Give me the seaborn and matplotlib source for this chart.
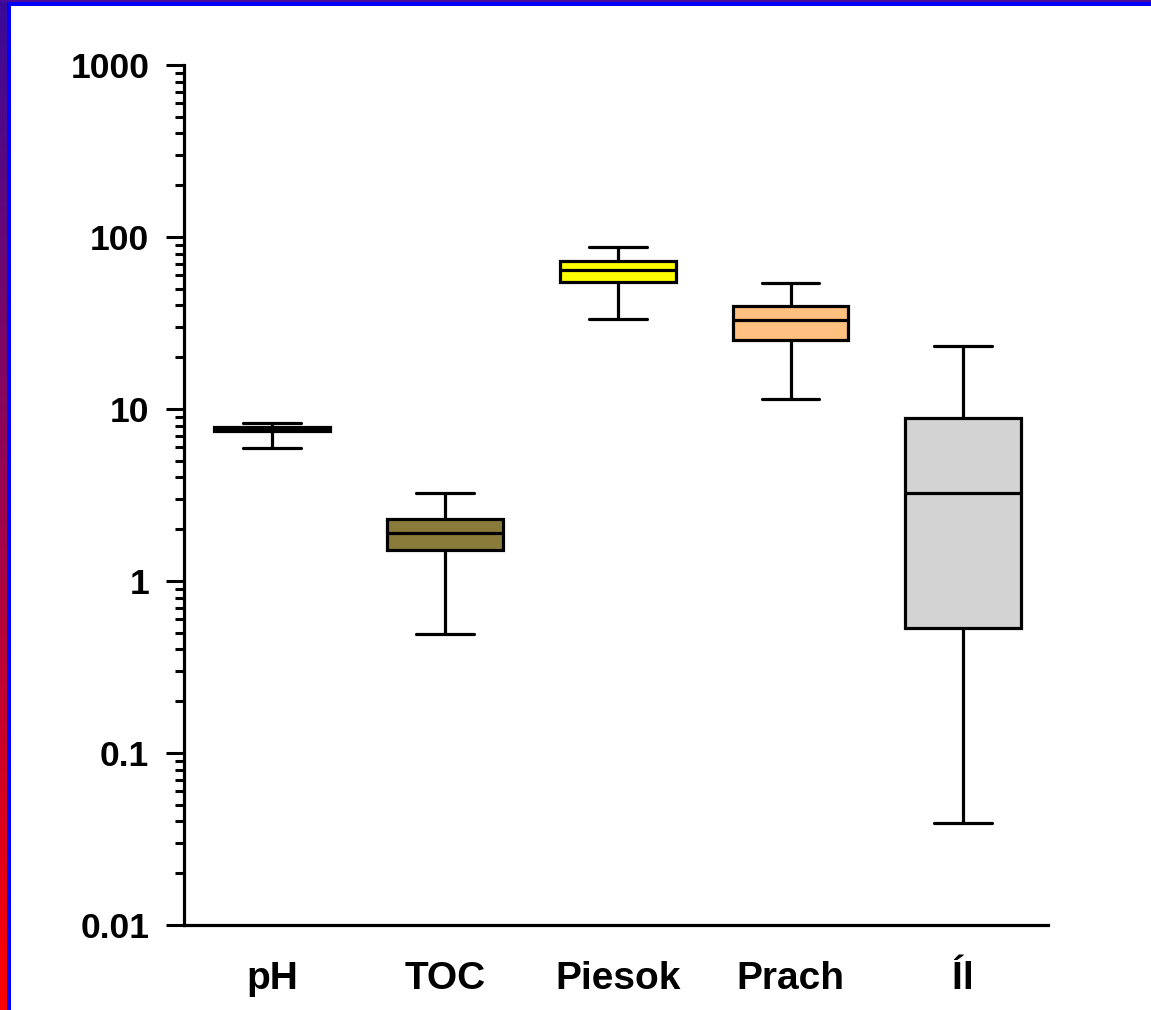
import numpy as np
import pandas as pd
import matplotlib
matplotlib.use("Agg")
import matplotlib.pyplot as plt
import seaborn as sns
from matplotlib.patches import Rectangle
from matplotlib.ticker import FixedLocator, FixedFormatter, LogLocator, NullFormatter

# ---- data (five-number summaries) ----
categories = ["pH", "TOC", "Piesok", "Prach", "Íl"]
mins    = [5.9, 0.49, 33.4, 11.4, 0.039]
q1s     = [7.4, 1.51, 54.5, 25.2, 0.535]
medians = [7.6, 1.89, 64.3, 32.9, 3.24]
q3s     = [7.85, 2.29, 72.8, 39.7, 8.83]
maxs    = [8.3, 3.24, 87.8, 54.3, 23.2]
colors  = ["#FFFFFF", "#8B7B3A", "#FFFF00", "#FFC080", "#D3D3D3"]
ytick_values = [0.01, 0.1, 1, 10, 100, 1000]
ytick_labels = ["0.01", "0.1", "1", "10", "100", "1000"]

rows = []
for c, a, b, m, d, e in zip(categories, mins, q1s, medians, q3s, maxs):
    for v in (a, b, m, d, e):
        rows.append({"cat": c, "val": v})
df = pd.DataFrame(rows)

sns.set_theme(style="white")
plt.rcParams["font.family"] = ["Liberation Sans", "DejaVu Sans"]
plt.rcParams["font.weight"] = "bold"

W, H = 1151, 1010
fig = plt.figure(figsize=(W / 100, H / 100), dpi=100)
fig.patch.set_facecolor("white")

ax = fig.add_axes([184 / W, 1 - 925 / H, (1048 - 184) / W, (925 - 65) / H])
sns.boxplot(data=df, x="cat", y="val", hue="cat", order=categories,
            hue_order=categories, palette=colors, saturation=1, legend=False,
            whis=(0, 100), width=0.67, linecolor="black", linewidth=2.3,
            fliersize=0, log_scale=True, ax=ax)

ax.set_yscale("log")
ax.set_ylim(0.01, 1000)
ax.set_xlim(-0.51, 4.49)
ax.yaxis.set_major_locator(FixedLocator(ytick_values))
ax.yaxis.set_major_formatter(FixedFormatter(ytick_labels))
ax.yaxis.set_minor_locator(LogLocator(base=10, subs=np.arange(2, 10), numticks=20))
ax.yaxis.set_minor_formatter(NullFormatter())
ax.tick_params(axis="y", which="major", direction="out", length=13, width=2.2,
               labelsize=25.5, pad=12, left=True, color="black")
ax.tick_params(axis="y", which="minor", direction="out", length=6.5, width=2.2,
               left=True, color="black")
ax.tick_params(axis="x", which="both", length=0, labelsize=28, pad=26)
for lab in ax.get_xticklabels() + ax.get_yticklabels():
    lab.set_fontweight("bold")
    lab.set_color("black")
ax.set_xlabel("")
ax.set_ylabel("")
for s in ["top", "right"]:
    ax.spines[s].set_visible(False)
for s in ["left", "bottom"]:
    ax.spines[s].set_linewidth(2.3)
    ax.spines[s].set_color("black")
ax.set_facecolor("white")

# ---- decorative frame ----
gax = fig.add_axes([0, 0, 7 / W, 1])
grad = np.linspace(0, 1, 256).reshape(-1, 1)
top_c = np.array([58, 10, 154]) / 255
bot_c = np.array([255, 0, 0]) / 255
img = top_c[None, None, :] * (1 - grad[..., None]) + bot_c[None, None, :] * grad[..., None]
gax.imshow(img, aspect="auto", extent=[0, 1, 0, 1], origin="upper")
gax.set_axis_off()
fig.add_artist(Rectangle((0, 1 - 2 / H), 1, 2 / H, transform=fig.transFigure,
                         color="#4A0A9A", lw=0))
fig.add_artist(Rectangle((7 / W, 0), 4 / W, 1 - 2 / H, transform=fig.transFigure,
                         color="#0000FF", lw=0))
fig.add_artist(Rectangle((7 / W, 1 - 6 / H), 1, 4 / H, transform=fig.transFigure,
                         color="#0000FF", lw=0))

fig.savefig("out.png", dpi=100)
